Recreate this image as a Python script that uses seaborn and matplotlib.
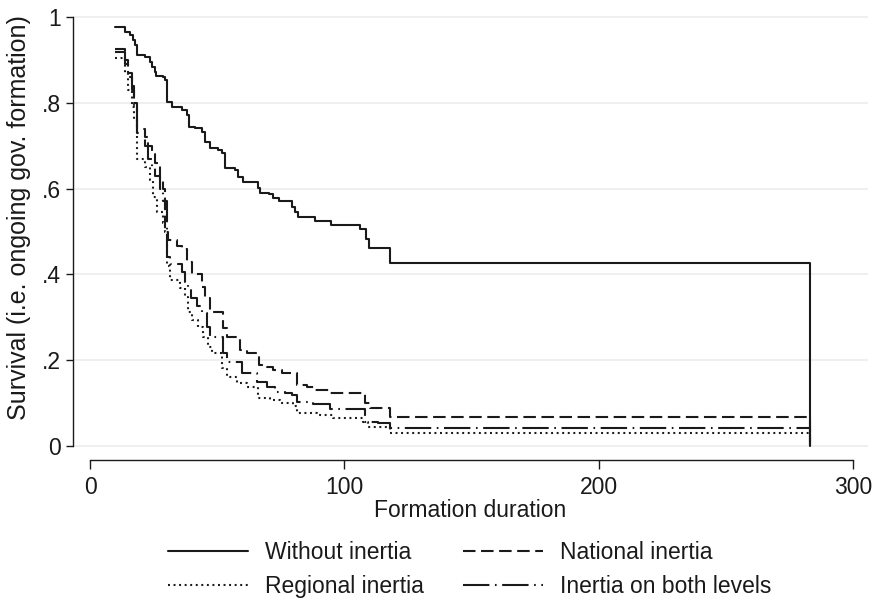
import matplotlib
matplotlib.use("Agg")
import matplotlib.pyplot as plt
import seaborn as sns
import numpy as np
import pandas as pd

# ---- data ----
t_without = [9.8, 13.8, 15.7, 16.9, 17.7, 18.5, 21.6, 23.6, 24.4, 25.5, 25.9, 28.7, 29.5, 30.3,
             32.2, 36.1, 38.1, 38.9, 41.3, 44.0, 45.2, 47.2, 50.3, 51.9, 53.0, 57.0, 58.2, 60.1,
             66.0, 66.8, 70.3, 71.9, 74.3, 79.4, 80.6, 81.7, 88.4, 94.7, 106.1, 108.4, 109.6,
             117.9, 282.9]
s_without = [0.977, 0.966, 0.958, 0.946, 0.935, 0.911, 0.907, 0.895, 0.883, 0.872, 0.862, 0.860,
             0.853, 0.802, 0.790, 0.783, 0.772, 0.744, 0.741, 0.732, 0.709, 0.695, 0.690, 0.683,
             0.648, 0.643, 0.627, 0.615, 0.601, 0.590, 0.587, 0.578, 0.571, 0.557, 0.545, 0.534,
             0.524, 0.515, 0.506, 0.483, 0.462, 0.427, 0.0]

t_national = [9.8, 13.8, 14.9, 16.5, 17.3, 18.5, 21.6, 22.8, 24.4, 25.5, 27.5, 28.7, 29.5, 30.6,
              34.2, 36.1, 38.1, 40.1, 44.0, 45.2, 47.2, 52.3, 53.8, 58.9, 61.7, 66.4, 69.5, 71.9,
              75.4, 81.3, 85.3, 88.4, 94.3, 108.1, 110.0, 117.9, 282.9]
s_national = [0.925, 0.900, 0.870, 0.840, 0.800, 0.740, 0.720, 0.700, 0.680, 0.660, 0.620, 0.600,
              0.500, 0.480, 0.467, 0.460, 0.430, 0.400, 0.370, 0.345, 0.313, 0.275, 0.255, 0.224,
              0.217, 0.189, 0.184, 0.177, 0.170, 0.142, 0.138, 0.131, 0.124, 0.100, 0.089, 0.068,
              0.0]

t_regional = [9.8, 13.8, 14.9, 16.5, 17.3, 18.5, 21.6, 23.6, 24.8, 26.3, 28.7, 29.5, 30.3, 31.4,
              35.4, 37.3, 38.5, 40.1, 42.4, 44.4, 46.4, 47.9, 51.9, 53.8, 57.8, 61.7, 66.0, 70.7,
              74.7, 79.8, 81.3, 89.2, 95.5, 107.3, 109.2, 117.9, 282.9]
s_regional = [0.905, 0.870, 0.830, 0.790, 0.760, 0.670, 0.650, 0.620, 0.580, 0.545, 0.520, 0.500,
              0.420, 0.388, 0.368, 0.347, 0.312, 0.294, 0.277, 0.254, 0.231, 0.217, 0.182, 0.161,
              0.147, 0.138, 0.112, 0.107, 0.100, 0.093, 0.077, 0.072, 0.065, 0.056, 0.044, 0.030,
              0.0]

t_both = [9.8, 13.8, 14.9, 16.5, 17.3, 18.5, 21.6, 22.8, 24.4, 25.5, 27.5, 28.7, 30.3, 31.4, 36.1,
          37.3, 38.5, 39.7, 42.0, 44.0, 46.0, 47.2, 52.3, 53.8, 59.7, 65.6, 69.5, 72.7, 76.6, 79.4,
          81.3, 87.6, 94.3, 108.1, 113.0, 117.9, 282.9]
s_both = [0.918, 0.890, 0.860, 0.830, 0.790, 0.730, 0.700, 0.670, 0.650, 0.630, 0.600, 0.570,
          0.440, 0.425, 0.406, 0.383, 0.368, 0.345, 0.326, 0.310, 0.277, 0.254, 0.217, 0.196,
          0.170, 0.149, 0.138, 0.126, 0.124, 0.119, 0.103, 0.098, 0.086, 0.056, 0.054, 0.042,
          0.0]

series_names = ["Without inertia", "National inertia", "Regional inertia", "Inertia on both levels"]
x_ticks = [0, 100, 200, 300]
y_ticks = [0, 0.2, 0.4, 0.6, 0.8, 1.0]
y_tick_labels = ["0", ".2", ".4", ".6", ".8", "1"]

# ---- styling ----
sns.set_style("white")
plt.rcParams["font.family"] = ["Liberation Sans", "DejaVu Sans"]
plt.rcParams["lines.scale_dashes"] = False
TXT = "#1a1a1a"
LC = "#1a1a1a"
FS = 16.5
FS_Y = 18

fig = plt.figure(figsize=(8.76, 6.01), dpi=100)
W, H = 876, 601
ax = fig.add_axes([73 / W, 1 - 448 / H, (868 - 73) / W, (448 - 15) / H])

styles = {
    "Without inertia": "-",
    "National inertia": (0, (9, 4)),
    "Regional inertia": (0, (1.4, 2.6)),
    "Inertia on both levels": (0, (19, 4, 1.2, 4)),
}
data = {
    "Without inertia": (t_without, s_without),
    "National inertia": (t_national, s_national),
    "Regional inertia": (t_regional, s_regional),
    "Inertia on both levels": (t_both, s_both),
}

for name in series_names:
    tt, ss = data[name]
    df = pd.DataFrame({"t": tt, "S": ss})
    sns.lineplot(data=df, x="t", y="S", ax=ax, drawstyle="steps-post", estimator=None,
                 sort=False, color=LC, linestyle=styles[name], linewidth=1.5, label=name,
                 legend=False)

ax.set_xlim(-6.68, 305.7)
ax.set_ylim(-2 / 429, 1 + 2 / 429)

ax.set_yticks(y_ticks)
ax.set_yticklabels(y_tick_labels)
ax.set_xticks(x_ticks)
ax.set_xticklabels([str(v) for v in x_ticks])

ax.yaxis.grid(True, color="#ececec", linewidth=1.2)
ax.xaxis.grid(False)
ax.set_axisbelow(True)

for sp in ["top", "right"]:
    ax.spines[sp].set_visible(False)
ax.spines["left"].set_bounds(0, 1)
ax.spines["left"].set_color(TXT)
ax.spines["left"].set_linewidth(1.0)
ax.spines["bottom"].set_position(("outward", 8.6))
ax.spines["bottom"].set_bounds(0, 300)
ax.spines["bottom"].set_color(TXT)
ax.spines["bottom"].set_linewidth(1.0)

ax.tick_params(axis="y", direction="out", length=5, width=1.0, color=TXT, labelsize=FS,
               labelcolor=TXT, pad=4, left=True)
ax.tick_params(axis="x", direction="out", length=6.5, width=1.0, color=TXT, labelsize=FS,
               labelcolor=TXT, pad=5, bottom=True)

ax.set_xlabel("Formation duration", fontsize=FS, color=TXT, labelpad=0)
ax.set_ylabel("Survival (i.e. ongoing gov. formation)", fontsize=FS_Y, color=TXT)
ax.yaxis.set_label_coords(-(73 - 31) / (868 - 73), (448 - 218) / (448 - 15))

handles, labels = ax.get_legend_handles_labels()
hmap = dict(zip(labels, handles))
# column-major fill: row 1 = Without / National, row 2 = Regional / Both
order = ["Without inertia", "Regional inertia", "National inertia", "Inertia on both levels"]
fig.legend([hmap[n] for n in order], order, loc="center", bbox_to_anchor=(470 / W, 1 - 569.5 / H),
           ncol=2, frameon=False, fontsize=FS, handlelength=3.5, handletextpad=0.74,
           columnspacing=1.7, labelspacing=0.5, labelcolor=TXT)

fig.savefig("out.png", dpi=100)
